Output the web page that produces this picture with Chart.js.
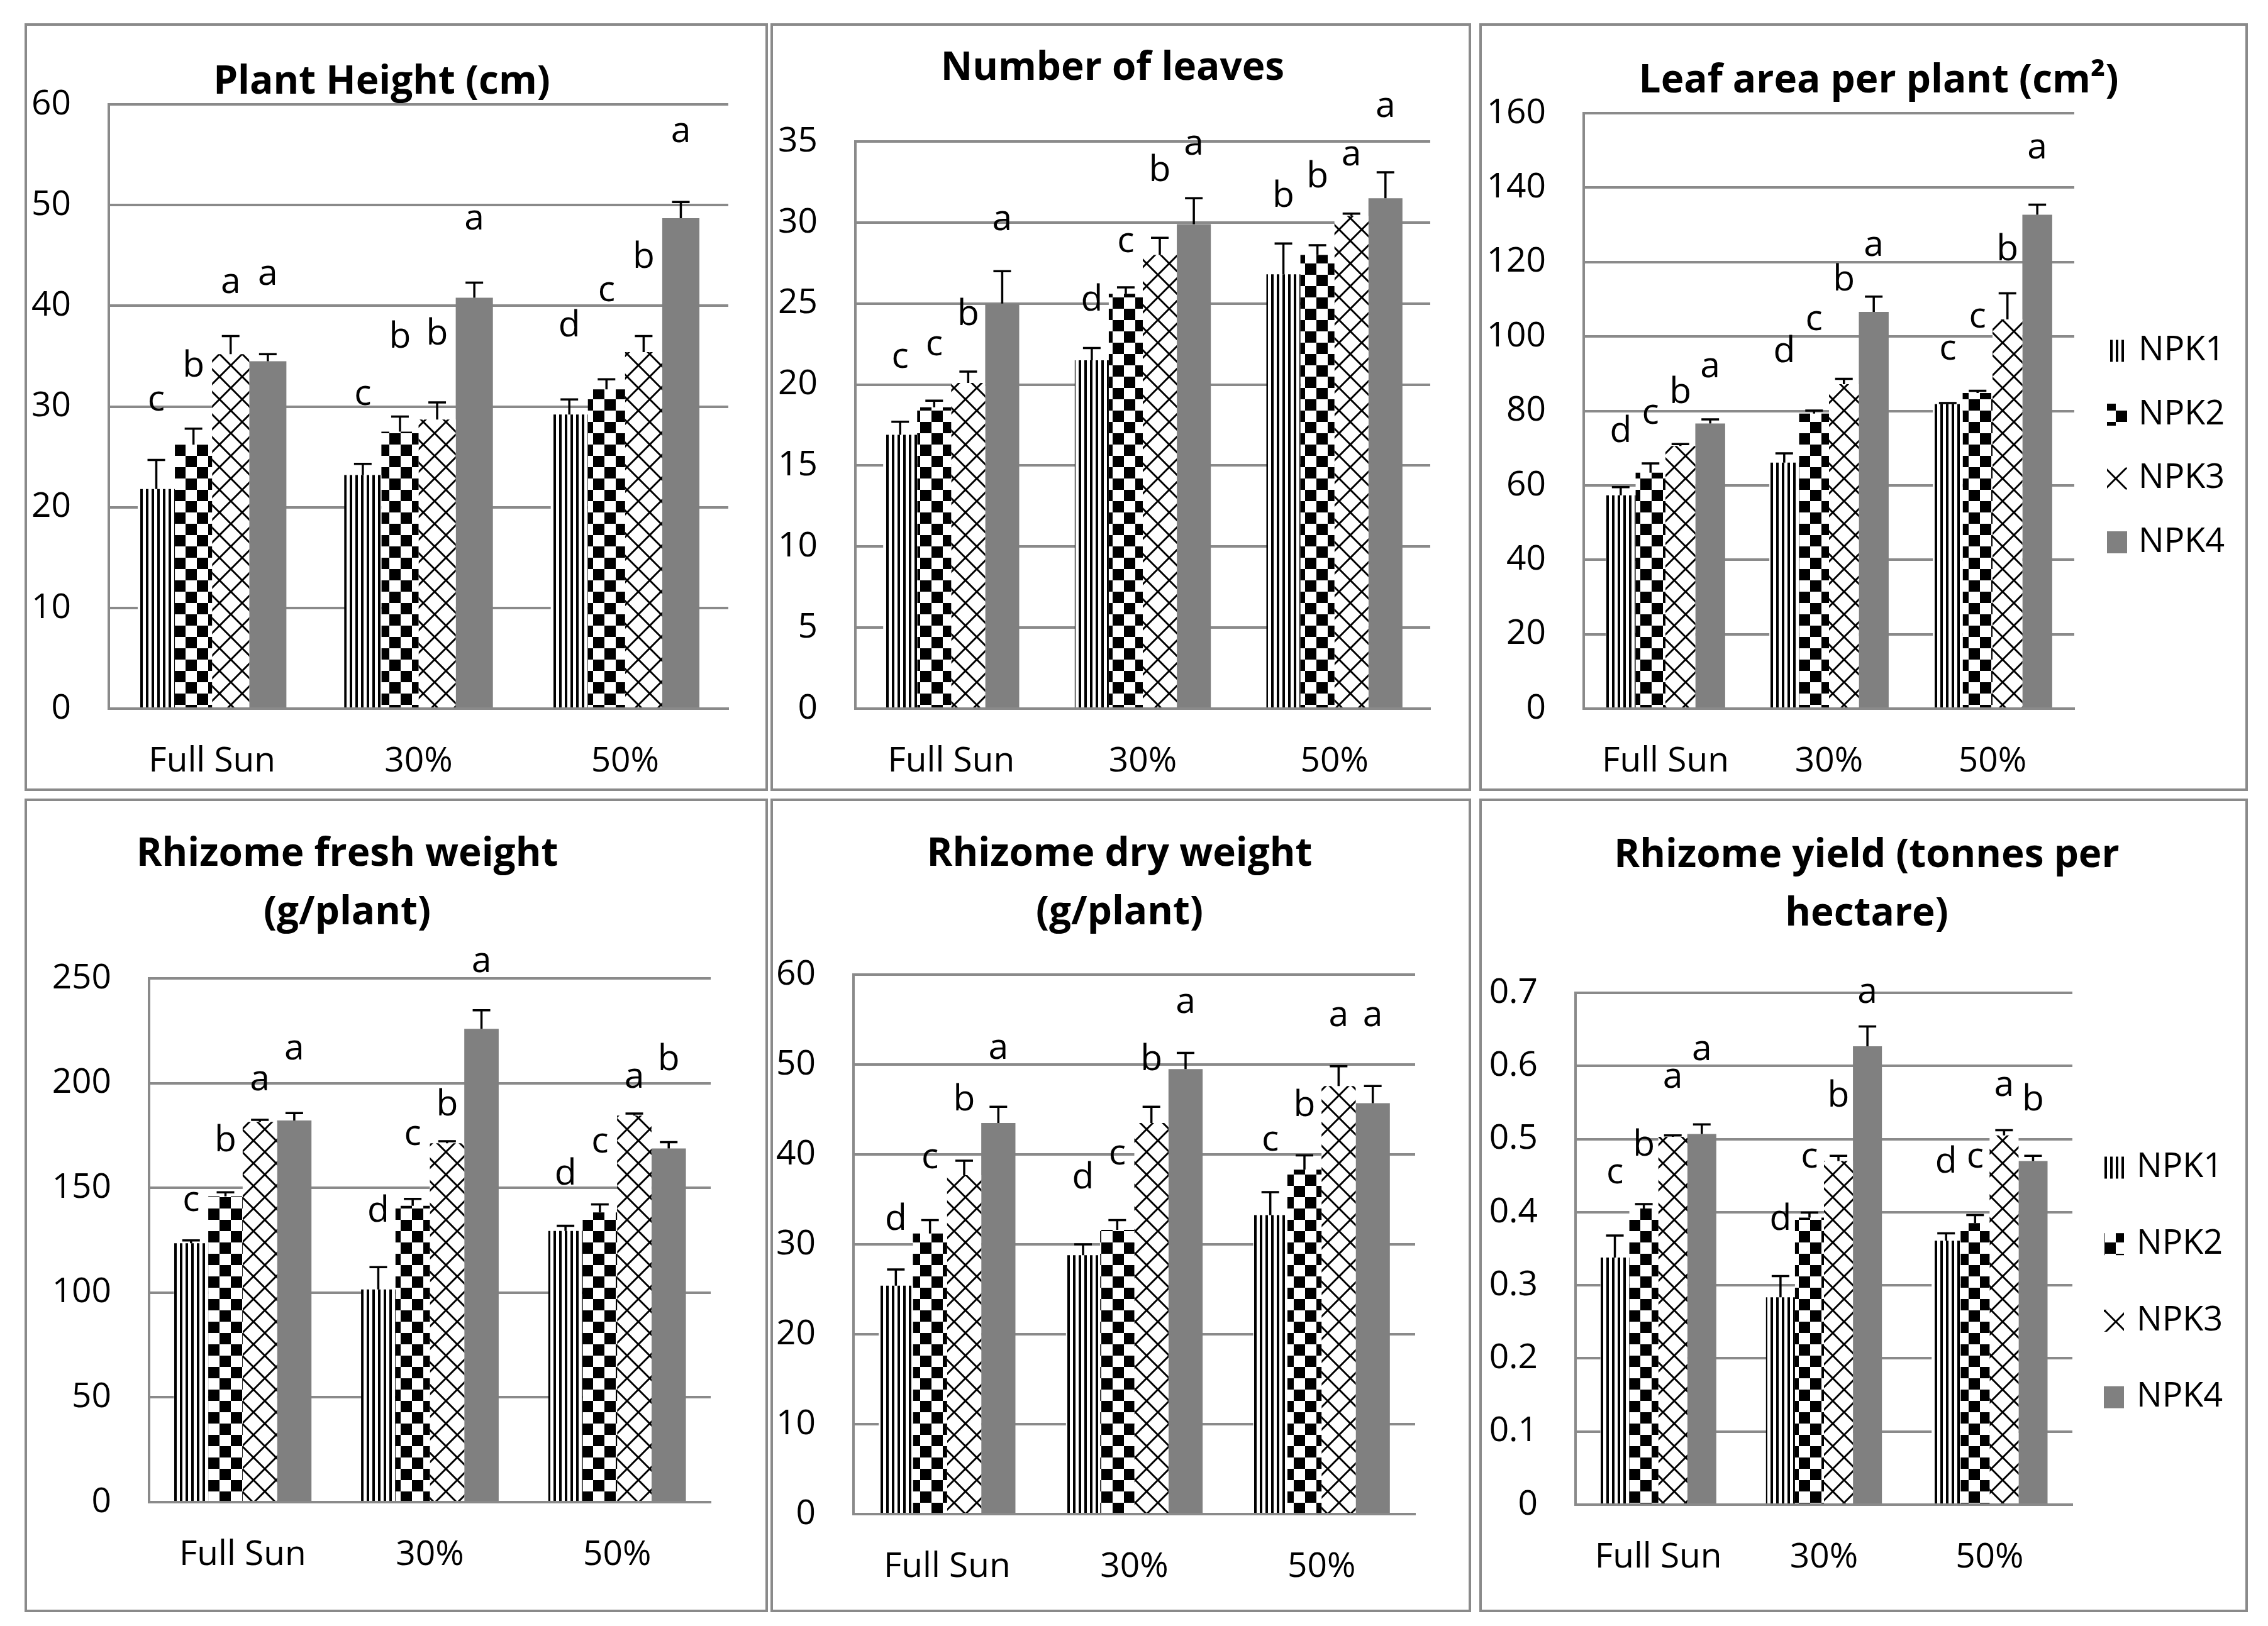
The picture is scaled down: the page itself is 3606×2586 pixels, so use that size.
<!DOCTYPE html>
<html>
<head>
<meta charset="utf-8">
<script src="https://cdn.jsdelivr.net/npm/chart.js@4.4.1/dist/chart.umd.min.js"></script>
<style>
html, body { margin: 0; padding: 0; background: #ffffff; }
body { width: 3606px; height: 2586px; position: relative; overflow: hidden; }
.panel { position: absolute; box-sizing: border-box; border: 4px solid #8a8a8a; background: #ffffff; }
.panel canvas { position: absolute; left: 0; top: 0; }
</style>
</head>
<body>
<script>
// ---------------- DATA ----------------
const categories = ['Full Sun', '30%', '50%'];
const seriesNames = ['NPK1', 'NPK2', 'NPK3', 'NPK4'];

// rows: NPK1..NPK4 ; columns: Full Sun, 30%, 50%
// Plant Height (cm)
const heightMeans   = [[21.8, 23.2, 29.2], [26.2, 27.5, 31.7], [35.2, 28.7, 35.4], [34.5, 40.8, 48.7]];
const heightErrors  = [[2.9, 1.1, 1.5], [1.6, 1.5, 1.0], [1.8, 1.7, 1.6], [0.7, 1.5, 1.6]];
const heightLetters = [['c', 'c', 'd'], ['b', 'b', 'c'], ['a', 'b', 'b'], ['a', 'a', 'a']];
const heightLetterY = [[30.5, 31.1, 38.3], [34.3, 37.2, 41.4], [42.2, 37.5, 45.1], [43.0, 48.5, 57.2]];
const heightTicks   = [0, 10, 20, 30, 40, 50, 60];

// Number of leaves
const leavesMeans   = [[16.9, 21.5, 26.8], [18.6, 25.6, 28.0], [20.1, 28.0, 30.4], [25.0, 29.9, 31.5]];
const leavesErrors  = [[0.8, 0.75, 1.9], [0.4, 0.4, 0.6], [0.7, 1.05, 0.15], [2.0, 1.6, 1.6]];
const leavesLetters = [['c', 'd', 'b'], ['c', 'c', 'b'], ['b', 'b', 'a'], ['a', 'a', 'a']];
const leavesLetterY = [[21.6, 25.4, 31.8], [22.4, 28.75, 33.0], [24.5, 33.4, 34.1], [30.1, 34.75, 37.1]];
const leavesTicks   = [0, 5, 10, 15, 20, 25, 30, 35];

// Leaf area per plant (cm2)
const areaMeans   = [[57.3, 66.1, 81.8], [63.4, 79.3, 84.8], [70.6, 87.2, 104.6], [76.6, 106.6, 132.7]];
const areaErrors  = [[2.2, 2.5, 0.3], [2.5, 0.8, 0.6], [0.5, 1.4, 7.0], [1.1, 4.1, 2.7]];
const areaLetters = [['d', 'd', 'c'], ['c', 'c', 'c'], ['b', 'b', 'b'], ['a', 'a', 'a']];
const areaLetterY = [[75.2, 96.7, 96.3], [79.0, 104.2, 104.9], [85.8, 116.0, 124.1], [91.5, 124.1, 150.4]];
const areaTicks   = [0, 20, 40, 60, 80, 100, 120, 140, 160];

// Rhizome fresh weight (g/plant)
const freshMeans   = [[123.6, 101.5, 129.4], [145.9, 141.4, 138.3], [181.5, 171.3, 184.5], [182.2, 225.9, 168.8]];
const freshErrors  = [[1.3, 10.7, 2.5], [2.0, 3.3, 3.8], [1.0, 1.0, 1.0], [3.5, 8.9, 3.0]];
const freshLetters = [['c', 'd', 'd'], ['b', 'c', 'c'], ['a', 'b', 'a'], ['a', 'a', 'b']];
const freshLetterY = [[143.4, 140.4, 158.1], [173.9, 175.1, 171.3], [201.0, 191.1, 202.3], [215.7, 257.6, 212.7]];
const freshTicks   = [0, 50, 100, 150, 200, 250];

// Rhizome dry weight (g/plant)
const dryMeans   = [[25.4, 28.8, 33.25], [31.2, 31.6, 38.3], [37.7, 43.5, 47.6], [43.5, 49.5, 45.7]];
const dryErrors  = [[1.8, 1.2, 2.55], [1.5, 1.1, 1.6], [1.6, 1.8, 2.2], [1.8, 1.8, 1.9]];
const dryLetters = [['d', 'd', 'c'], ['c', 'c', 'b'], ['b', 'b', 'a'], ['a', 'a', 'a']];
const dryLetterY = [[33.1, 37.7, 41.5], [39.5, 39.9, 45.8], [46.4, 50.9, 55.3], [51.7, 56.8, 55.3]];
const dryTicks   = [0, 10, 20, 30, 40, 50, 60];

// Rhizome yield (tonnes per hectare)
const yieldMeans   = [[0.338, 0.2835, 0.361], [0.405, 0.3925, 0.385], [0.503, 0.470, 0.505], [0.507, 0.627, 0.470]];
const yieldErrors  = [[0.030, 0.029, 0.010], [0.006, 0.007, 0.011], [0.002, 0.007, 0.007], [0.013, 0.027, 0.007]];
const yieldLetters = [['c', 'd', 'd'], ['b', 'c', 'c'], ['a', 'b', 'a'], ['a', 'a', 'b']];
const yieldLetterY = [[0.452, 0.394, 0.4725], [0.496, 0.474, 0.474], [0.583, 0.563, 0.572], [0.621, 0.699, 0.558]];
const yieldTicks   = [0, 0.1, 0.2, 0.3, 0.4, 0.5, 0.6, 0.7];

// ---------------- STYLE / LAYOUT ----------------
const GRAY = '#8a8a8a';
const FONT = '"Open Sans", "Liberation Sans", sans-serif';
const BORDER = 4;
const TITLE_SIZE = 62;

const panels = [
  { title: ['Plant Height (cm)'], means: heightMeans, errors: heightErrors, letters: heightLetters, letterY: heightLetterY, ticks: heightTicks,
    box: [39, 37, 1182, 1221], plot: [173, 166, 1158, 1127], titleX: 607, titleY: 131, lineH: 74, catPct: 0.72 },
  { title: ['Number of leaves'], means: leavesMeans, errors: leavesErrors, letters: leavesLetters, letterY: leavesLetterY, ticks: leavesTicks,
    box: [1225, 37, 1114, 1221], plot: [1360, 225, 2274, 1127], titleX: 1769, titleY: 109, lineH: 74, catPct: 0.71 },
  { title: ['Leaf area per plant (cm\u00B2)'], means: areaMeans, errors: areaErrors, letters: areaLetters, letterY: areaLetterY, ticks: areaTicks,
    box: [2352, 37, 1222, 1221], plot: [2518, 180, 3298, 1127], titleX: 2987, titleY: 129, lineH: 74, catPct: 0.73,
    legend: { sx: 3350, tx: 3400, y0: 558, dy: 101.5 } },
  { title: ['Rhizome fresh weight', '(g/plant)'], means: freshMeans, errors: freshErrors, letters: freshLetters, letterY: freshLetterY, ticks: freshTicks,
    box: [39, 1270, 1182, 1294], plot: [237, 1556, 1130, 2389], titleX: 552, titleY: 1359, lineH: 93, catPct: 0.735 },
  { title: ['Rhizome dry weight', '(g/plant)'], means: dryMeans, errors: dryErrors, letters: dryLetters, letterY: dryLetterY, ticks: dryTicks,
    box: [1225, 1270, 1114, 1294], plot: [1357, 1550, 2250, 2408], titleX: 1780, titleY: 1359, lineH: 93, catPct: 0.73 },
  { title: ['Rhizome yield (tonnes per', 'hectare)'], means: yieldMeans, errors: yieldErrors, letters: yieldLetters, letterY: yieldLetterY, ticks: yieldTicks,
    box: [2352, 1270, 1222, 1294], plot: [2505, 1579, 3295, 2393], titleX: 2968, titleY: 1361, lineH: 93, catPct: 0.70,
    legend: { sx: 3345, tx: 3397, y0: 1857, dy: 121.7 } }
];

function makeFill(kind) {
  if (kind === 'solid') return '#808080';
  const c = document.createElement('canvas');
  const g = c.getContext('2d');
  if (kind === 'vlines') {
    c.width = 9; c.height = 9;
    g.fillStyle = '#fff'; g.fillRect(0, 0, 9, 9);
    g.fillStyle = '#000'; g.fillRect(0, 0, 4, 9);
  } else if (kind === 'checker') {
    c.width = 36; c.height = 36;
    g.fillStyle = '#fff'; g.fillRect(0, 0, 36, 36);
    g.fillStyle = '#000'; g.fillRect(0, 0, 18, 18); g.fillRect(18, 18, 18, 18);
  } else if (kind === 'cross') {
    c.width = 36; c.height = 36;
    g.fillStyle = '#fff'; g.fillRect(0, 0, 36, 36);
    g.strokeStyle = '#000'; g.lineWidth = 3;
    g.beginPath();
    for (const o of [-36, 0, 36]) {
      g.moveTo(o - 2, -2); g.lineTo(o + 38, 38);
      g.moveTo(o + 38, -2); g.lineTo(o - 2, 38);
    }
    g.stroke();
  }
  return g.createPattern(c, 'repeat');
}

const annotPlugin = {
  id: 'annot',
  afterDatasetsDraw(chart, args, o) {
    const ctx = chart.ctx;
    const ys = chart.scales.y;
    ctx.save();
    chart.data.datasets.forEach((ds, di) => {
      const meta = chart.getDatasetMeta(di);
      meta.data.forEach((bar, i) => {
        const v = ds.data[i];
        const e = ds.errors[i];
        const y0 = ys.getPixelForValue(v);
        const y1 = ys.getPixelForValue(v + e);
        ctx.strokeStyle = '#000';
        ctx.lineWidth = o.errWidth;
        ctx.beginPath();
        ctx.moveTo(bar.x, y0); ctx.lineTo(bar.x, y1);
        ctx.moveTo(bar.x - o.cap / 2, y1); ctx.lineTo(bar.x + o.cap / 2, y1);
        ctx.stroke();
        const letter = ds.letters[i];
        ctx.font = o.letterSize + 'px ' + FONT;
        ctx.fillStyle = '#000';
        ctx.textAlign = 'center';
        ctx.textBaseline = 'alphabetic';
        const m = ctx.measureText(letter);
        const h = m.actualBoundingBoxAscent - m.actualBoundingBoxDescent;
        ctx.fillText(letter, bar.x, ys.getPixelForValue(ds.letterY[i]) + h / 2);
      });
    });
    ctx.restore();
  }
};

const legendPlugin = {
  id: 'sideLegend',
  afterDraw(chart, args, o) {
    if (!o || !o.show) return;
    const ctx = chart.ctx;
    ctx.save();
    chart.data.datasets.forEach((ds, i) => {
      const yc = o.y0 + i * o.dy;
      ctx.fillStyle = ds.backgroundColor;
      ctx.fillRect(o.sx, yc - o.sh / 2, o.sw, o.sh);
      ctx.fillStyle = '#000';
      ctx.font = o.size + 'px ' + FONT;
      ctx.textAlign = 'left';
      ctx.textBaseline = 'middle';
      ctx.fillText(ds.label, o.tx, yc);
    });
    ctx.restore();
  }
};

function build() {
  Chart.defaults.font.family = FONT;
  const fills = [makeFill('vlines'), makeFill('checker'), makeFill('cross'), makeFill('solid')];
  panels.forEach(p => {
    const div = document.createElement('div');
    div.className = 'panel';
    div.style.left = p.box[0] + 'px';
    div.style.top = p.box[1] + 'px';
    div.style.width = p.box[2] + 'px';
    div.style.height = p.box[3] + 'px';
    const cx = p.box[0] + BORDER, cy = p.box[1] + BORDER;
    const cw = p.box[2] - 2 * BORDER, ch = p.box[3] - 2 * BORDER;
    const cv = document.createElement('canvas');
    cv.width = cw; cv.height = ch;
    cv.style.width = cw + 'px'; cv.style.height = ch + 'px';
    div.appendChild(cv);
    document.body.appendChild(div);

    const [L, T, R, B] = p.plot;
    // title is centred between the left and right layout paddings
    const d = 2 * (p.titleX - cx) - cw;
    const padLeft = d < 0 ? d : 0;
    const padRight = d < 0 ? 0 : -d;
    const yW = (L - cx) - padLeft;
    const rW = (cx + cw - R) - padRight;
    const xH = (cy + ch) - B;
    const nl = p.title.length;
    const tTop = (p.titleY - cy) - p.lineH / 2;
    const tBottom = (T - cy) - tTop - nl * p.lineH;
    const tk = p.ticks;
    const step = tk[1] - tk[0];
    const decimals = step < 1 ? 1 : 0;

    const datasets = seriesNames.map((name, s) => ({
      label: name,
      data: p.means[s],
      errors: p.errors[s],
      letters: p.letters[s],
      letterY: p.letterY[s],
      backgroundColor: fills[s],
      borderWidth: 0,
      categoryPercentage: p.catPct,
      barPercentage: 1.0,
      yAxisID: 'y'
    }));

    const lg = p.legend
      ? { show: true, sx: p.legend.sx - cx, tx: p.legend.tx - cx, y0: p.legend.y0 - cy, dy: p.legend.dy, sw: 32, sh: 35, size: 54 }
      : { show: false };

    new Chart(cv, {
      type: 'bar',
      data: { labels: categories, datasets },
      options: {
        responsive: false,
        animation: false,
        devicePixelRatio: 1,
        layout: { padding: { left: padLeft, right: padRight, top: 0, bottom: 0 } },
        plugins: {
          legend: { display: false },
          tooltip: { enabled: false },
          title: {
            display: true,
            text: p.title,
            color: '#000',
            font: { family: FONT, weight: 'bold', size: TITLE_SIZE, lineHeight: p.lineH / TITLE_SIZE },
            padding: { top: tTop, bottom: tBottom }
          },
          annot: { errWidth: 3.5, cap: 28, letterSize: 57 },
          sideLegend: lg
        },
        scales: {
          x: {
            grid: { display: false, drawTicks: false },
            border: { display: true, color: GRAY, width: 4 },
            ticks: { color: '#000', font: { size: 55 }, padding: 51, maxRotation: 0 },
            afterFit(s) { s.height = xH; }
          },
          y: {
            min: tk[0],
            max: tk[tk.length - 1],
            grid: { color: GRAY, lineWidth: 4, drawTicks: false },
            border: { display: true, color: GRAY, width: 4 },
            ticks: {
              stepSize: step,
              color: '#000',
              font: { size: 55 },
              padding: 60,
              callback: v => Number(v.toFixed(decimals)).toString()
            },
            afterFit(s) { s.width = yW; }
          },
          yR: {
            position: 'right',
            grid: { display: false, drawTicks: false },
            border: { display: false },
            ticks: { display: false },
            afterFit(s) { s.width = rW; }
          }
        }
      },
      plugins: [annotPlugin, legendPlugin]
    });
  });
}

Promise.all([
  document.fonts.load('55px "Open Sans"'),
  document.fonts.load('bold 62px "Open Sans"')
]).then(build, build);
</script>
</body>
</html>
